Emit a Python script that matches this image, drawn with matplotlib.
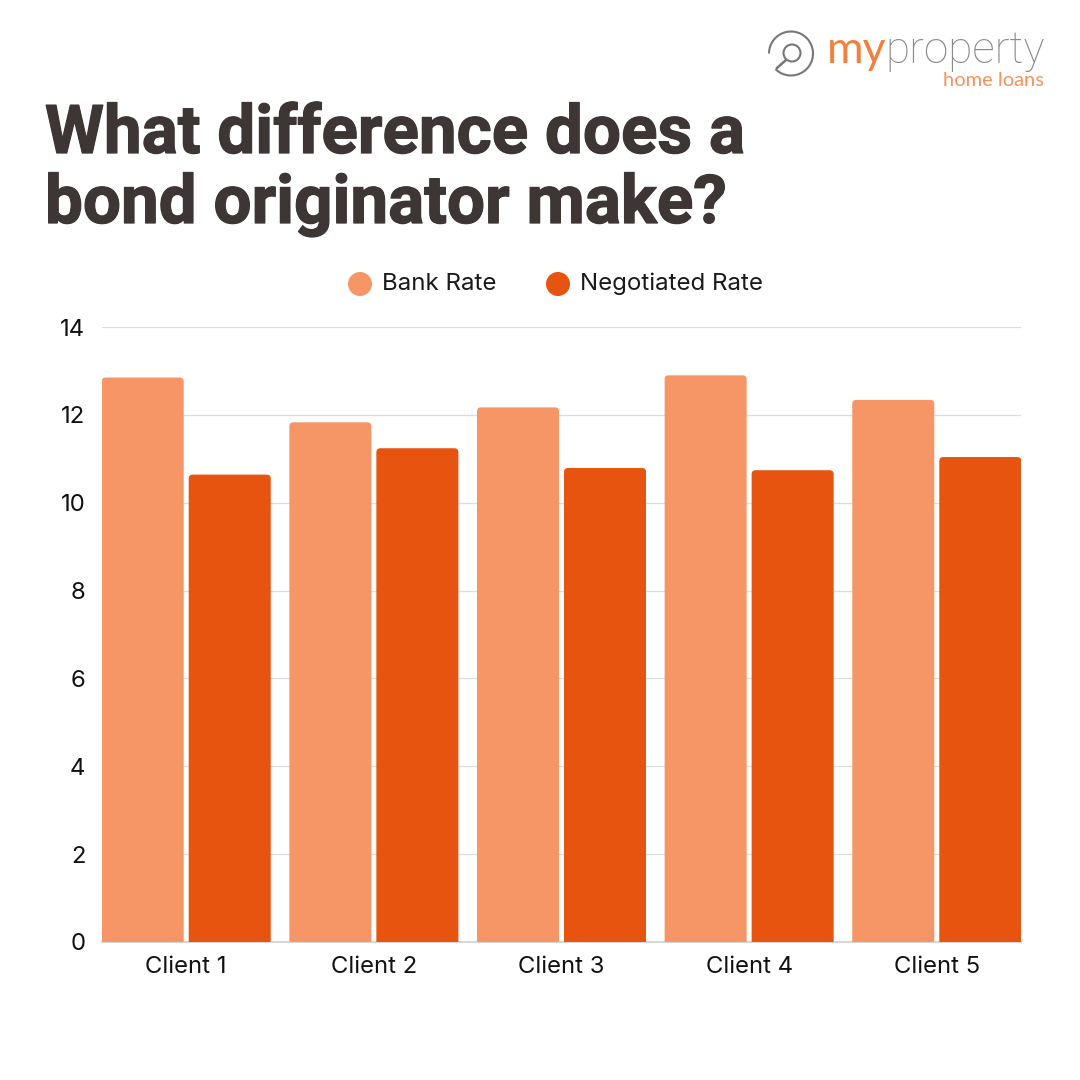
import matplotlib
matplotlib.use("Agg")
import matplotlib.pyplot as plt
import matplotlib.patheffects as pe
from matplotlib.patches import FancyBboxPatch, Circle, Arc
from matplotlib.lines import Line2D

clients = ["Client 1", "Client 2", "Client 3", "Client 4", "Client 5"]
bank_rate = [12.85, 11.83, 12.17, 12.9, 12.34]
negotiated_rate = [10.64, 11.24, 10.79, 10.74, 11.04]
y_ticks = [0, 2, 4, 6, 8, 10, 12, 14]

plt.rcParams['font.family'] = ['Inter', 'DejaVu Sans']
fig = plt.figure(figsize=(10.8, 10.8), dpi=100, facecolor='white')

x0, x1, ytop, ybot = 102, 1021, 327, 942
ax = fig.add_axes([x0/1080, 1-ybot/1080, (x1-x0)/1080, (ybot-ytop)/1080])
ax.set_facecolor('white')
pitch = 187.6
margin = 84.2/pitch
ax.set_xlim(-margin, 4+margin)
ax.set_ylim(0, 14)
ax.set_yticks(y_ticks)
ax.set_xticks(range(5))
ax.set_xticklabels(clients)
ax.tick_params(axis='both', length=0, labelsize=17.2, labelcolor='#111111')
ax.tick_params(axis='y', pad=12)
ax.tick_params(axis='x', pad=10)
for s in ax.spines.values():
    s.set_visible(False)
ax.grid(axis='y', color='#dcdcdc', lw=0.9)
ax.set_axisbelow(True)
ax.axhline(0, color='#d0d0d0', lw=1.2, clip_on=False, zorder=1)

w = 82/pitch
off = 43.5/pitch
r = 4/pitch
aspect = (14/615)/(1/pitch)

def rounded_bars(xs, vals, color):
    for x, v in zip(xs, vals):
        ax.add_patch(FancyBboxPatch((x-w/2, -1), w, v+1,
                     boxstyle=f"round,pad=0,rounding_size={r}",
                     mutation_aspect=aspect, fc=color, ec='none', lw=0, zorder=3))

rounded_bars([i-off for i in range(5)], bank_rate, '#F69666')
rounded_bars([i+off for i in range(5)], negotiated_rate, '#E7540F')

for y, line in ((153, "What difference does a"), (223, "bond originator make?")):
    fig.text(45/1080, 1-y/1080, line, fontsize=48.5, fontweight='bold', color='#3E3535',
             va='baseline', family=['Roboto', 'DejaVu Sans'],
             path_effects=[pe.withStroke(linewidth=0.9, foreground='#3E3535')])

ov = fig.add_axes([0, 0, 1, 1], facecolor='none')
ov.set_xlim(0, 1080); ov.set_ylim(1080, 0); ov.axis('off')
ov.add_patch(Circle((360, 284), 12, color='#F69666', lw=0))
ov.text(382, 283.5, "Bank Rate", fontsize=17.3, va='center', color='#1a1a1a')
ov.add_patch(Circle((558, 284), 12, color='#E7540F', lw=0))
ov.text(580, 283.5, "Negotiated Rate", fontsize=17.3, va='center', color='#1a1a1a')

# logo
ov.add_patch(Arc((791, 53.5), 44, 44, theta1=-180, theta2=135, ec='#777777', lw=1.5))
ov.add_patch(Circle((792, 53), 8.5, fill=False, ec='#777777', lw=1.5))
ov.add_line(Line2D([786, 777], [60, 68], color='#777777', lw=1.8))
ov.text(827, 63, "my", fontsize=32, color='#F0813F', va='baseline', family=['Lato'])
ov.text(885, 63, "property", fontsize=31.8, color='#8a8a8a', va='baseline', family=['Roboto'], fontweight='light')
ov.text(1044, 86.5, "home loans", fontsize=14.5, color='#F5935A', va='baseline', ha='right', family=['Lato'])

fig.savefig("out.png", dpi=100, facecolor='white')
